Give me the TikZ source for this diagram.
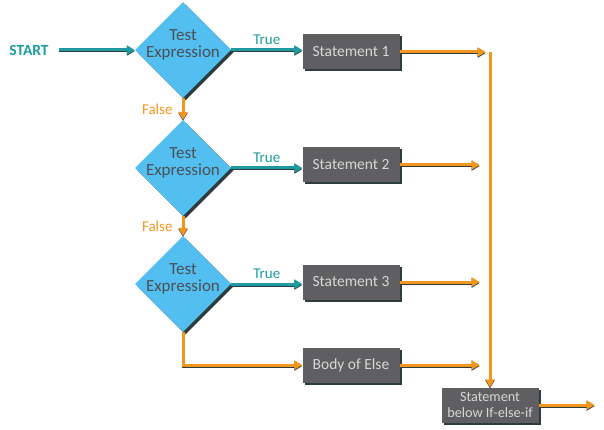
\documentclass[tikz,border=0pt]{standalone}
\usepackage{fontspec}
\setmainfont{Carlito}
\usetikzlibrary{shapes.geometric,arrows.meta,shadows,positioning}

\definecolor{diafill}{RGB}{83,190,240}
\definecolor{diatext}{RGB}{75,80,85}
\definecolor{boxfill}{RGB}{95,95,97}
\definecolor{boxtext}{RGB}{215,215,215}
\definecolor{shadowc}{RGB}{45,60,60}
\definecolor{tealc}{RGB}{30,155,160}
\definecolor{orangec}{RGB}{243,150,30}

\begin{document}
\begin{tikzpicture}[
            x=1pt, y=-1pt,
            test node/.style={diamond,fill=diafill,minimum width=96pt,minimum height=96pt,inner sep=0pt,
              drop shadow={shadow xshift=2.5pt,shadow yshift=-2.5pt,fill=shadowc,opacity=1},
              label={[text=diatext,align=center,yshift=5pt,font=\fontsize{17}{17.5}\selectfont]center:Test\\Expression}},
            stmt node/.style={rectangle,fill=boxfill,text=boxtext,minimum width=97pt,minimum height=35pt,inner sep=2pt,
              align=center,font=\fontsize{15.5}{16}\selectfont,
              drop shadow={shadow xshift=2pt,shadow yshift=-2pt,fill=shadowc,opacity=1}},
            yes/.style={tealc,line width=3pt,-{Triangle[length=8pt,width=9pt]},
              preaction={draw=shadowc,line width=3pt,transform canvas={yshift=-1pt}}},
            no/.style={orangec,line width=3pt,-{Triangle[length=8pt,width=9pt]},
              preaction={draw=shadowc,line width=3pt,transform canvas={yshift=-1pt}}},
            tag/.style={font=\fontsize{15}{15}\selectfont,inner sep=1pt},
            ]
            \useasboundingbox (0,0) rectangle (604,430);
            \def\X{183}
            \def\S{351}

            \node[tag, text=tealc, font=\bfseries\fontsize{15.5}{15.5}\selectfont] (start) at (29,50) {START};
            \node[test node] (1) at (\X,50) {};
            \node[test node] (2) at (\X,168) {};
            \node[test node] (3) at (\X,284) {};

            \node[stmt node] (s1) at (\S,52) {Statement 1};
            \node[stmt node] (s2) at (\S,165) {Statement 2};
            \node[stmt node] (s3) at (\S,282) {Statement 3};
            \node[stmt node] (else) at (\S,365) {Body of Else};
            \node[stmt node, font=\fontsize{14.2}{16}\selectfont] (fin) at (490,405) {Statement\\below If-else-if};

            \draw[yes, shorten <=9pt] (start.east) -- (1.west);
            \draw[yes] (1.east) -- (1.east -| s1.west) node[tag, midway, above=3pt, text=tealc] {True};
            \draw[yes] (2.east) -- (2.east -| s2.west) node[tag, midway, above=3pt, text=tealc] {True};
            \draw[yes] (3.east) -- (3.east -| s3.west) node[tag, midway, above=3pt, text=tealc] {True};

            \draw[no] (1.south) -- (2.north) node[tag, midway, left=8pt, text=orangec] {False};
            \draw[no] (2.south) -- (3.north) node[tag, midway, left=8pt, text=orangec] {False};
            \draw[no] (3.south) |- (else.west);

            \draw[no] (s1.east) -- ++(86,0);
            \draw[no] (s1.east -| fin.north) -- (fin.north);
            \draw[no] (s2.east) -- ++(80,0);
            \draw[no] (s3.east) -- ++(80,0);
            \draw[no] (else.east) -- ++(80,0);
            \draw[no] (fin.east) -- ++(56,0);
        \end{tikzpicture}
\end{document}
